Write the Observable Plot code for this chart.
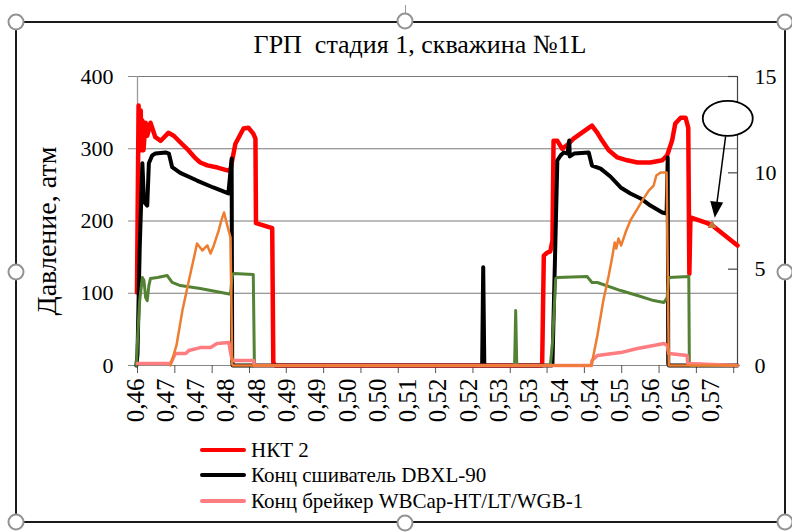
<!DOCTYPE html>
<html><head><meta charset="utf-8">
<script src="https://cdn.jsdelivr.net/npm/d3@7"></script>
<script src="https://cdn.jsdelivr.net/npm/@observablehq/plot@0.6"></script>
<style>
body{margin:0;background:#fff;}
#wrap{position:relative;width:792px;height:532px;overflow:hidden;background:#fff;font-family:"Liberation Serif","Times New Roman",serif;color:#000;}
.frame{position:absolute;left:15px;top:21px;width:771px;height:502px;border:2.5px solid #1a1a1a;box-sizing:border-box;}
.handle{position:absolute;width:17px;height:17px;border-radius:50%;border:2.5px solid #939393;background:#fff;box-sizing:border-box;transform:translate(-50%,-50%);}
.rot{position:absolute;left:405px;top:5px;width:1px;height:9px;background:#999;}
#title{position:absolute;left:0;width:840px;top:32px;text-align:center;font-size:26px;white-space:pre;line-height:1;}
#ytitle{position:absolute;left:47px;top:231px;transform:translate(-50%,-50%) rotate(-90deg);white-space:nowrap;font-size:28px;line-height:1;}
#chart{position:absolute;left:0;top:0;}
.leg{position:absolute;left:200px;height:26px;display:flex;align-items:center;font-size:21px;white-space:nowrap;}
.sw{width:46px;height:4px;border-radius:2px;margin-right:5px;}
</style>
</head><body>
<div id="wrap">
  <div class="frame"></div>
  <div class="rot"></div>
  <div id="title">ГРП  стадия 1, скважина №1L</div>
  <div id="ytitle">Давление, атм</div>
  <div id="chart"></div>
  <div id="legend"></div>
</div>
<script>
// ---- data (time as fraction of day; red in атм, others on right axis 0–15) ----
const red = [[0.4599,101],[0.4602,360],[0.4604,311],[0.4606,353],[0.4607,298],[0.4609,339],[0.4611,298],[0.4615,336],[0.4618,318],[0.4624,336],[0.4633,316],[0.4643,311],[0.4657,322],[0.4667,318],[0.4679,309],[0.4694,298],[0.4707,287],[0.4716,281],[0.4729,277],[0.4748,274],[0.4766,270],[0.4772,271],[0.4775,284],[0.4781,307],[0.4796,328],[0.4805,329],[0.4814,321],[0.4818,314],[0.4819,197],[0.4849,190],[0.4851,4],[0.4855,0],[0.5347,0],[0.5348,4],[0.5351,152],[0.5357,156],[0.5363,158],[0.5367,173],[0.5369,311],[0.5376,311],[0.5385,300],[0.5394,305],[0.5406,314],[0.5419,321],[0.5434,329],[0.5440,332],[0.5450,322],[0.5459,311],[0.5471,298],[0.5487,288],[0.5505,284],[0.5524,281],[0.5548,281],[0.5570,284],[0.5579,291],[0.5588,311],[0.5594,335],[0.5604,343],[0.5613,343],[0.5618,329],[0.5620,127],[0.5622,205],[0.5653,197],[0.5662,194],[0.5709,166]];
const black = [[0.4598,0],[0.4600,0.6],[0.4604,6.0],[0.4609,10.5],[0.4612,8.5],[0.4618,8.3],[0.4621,10.5],[0.4627,10.9],[0.4633,11.0],[0.4652,11.06],[0.4658,11.0],[0.4664,10.3],[0.4679,10.0],[0.4710,9.6],[0.4740,9.24],[0.4768,8.93],[0.4774,10.74],[0.4775,0.26],[0.4776,0],[0.5237,0],[0.5239,5.1],[0.5241,0],[0.5366,0],[0.5367,0.1],[0.5376,10.64],[0.5382,10.9],[0.5388,11.06],[0.5395,11.0],[0.5398,11.68],[0.5399,10.85],[0.5407,11.0],[0.5434,11.06],[0.5440,10.38],[0.5456,10.22],[0.5474,9.81],[0.5493,9.24],[0.5511,8.93],[0.5530,8.67],[0.5548,8.30],[0.5570,7.94],[0.5578,7.89],[0.5580,10.8],[0.5581,0.1],[0.5582,0],[0.5709,0]];
const green = [[0.4598,0],[0.4600,1.3],[0.4604,3.37],[0.4609,4.57],[0.4612,4.41],[0.4615,3.53],[0.4618,3.37],[0.4621,4.15],[0.4624,4.52],[0.4637,4.57],[0.4655,4.67],[0.4664,4.31],[0.4679,4.15],[0.4716,4.0],[0.4772,3.7],[0.4775,4.67],[0.4778,4.78],[0.4814,4.72],[0.4816,0.16],[0.4818,0],[0.5297,0],[0.5299,2.85],[0.5301,0],[0.5363,0],[0.5367,1.14],[0.5373,4.52],[0.5376,4.57],[0.5431,4.62],[0.5440,4.31],[0.5450,4.31],[0.5493,3.89],[0.5524,3.63],[0.5554,3.37],[0.5573,3.27],[0.5579,3.53],[0.5582,4.57],[0.5619,4.62],[0.5620,0.1],[0.5622,0],[0.5709,0]];
const pink = [[0.4600,0.1],[0.4661,0.1],[0.4670,0.62],[0.4689,0.62],[0.4695,0.78],[0.4716,0.93],[0.4735,0.93],[0.4747,1.14],[0.4769,1.19],[0.4772,0.67],[0.4775,0.26],[0.4814,0.26],[0.4816,0],[0.5439,0],[0.5440,0.26],[0.5450,0.52],[0.5493,0.67],[0.5524,0.88],[0.5554,1.04],[0.5573,1.14],[0.5579,1.04],[0.5582,0.62],[0.5616,0.52],[0.5617,0.1],[0.5709,0]];
const orange = [[0.4661,0],[0.4672,1.04],[0.4683,2.85],[0.4695,4.41],[0.4704,5.55],[0.4710,6.33],[0.4720,5.97],[0.4729,6.23],[0.4735,5.81],[0.4741,6.23],[0.4750,7.0],[0.4755,7.53],[0.4760,7.94],[0.4766,7.27],[0.4772,6.64],[0.4775,0.1],[0.4776,0],[0.5439,0],[0.5450,1.56],[0.5461,3.37],[0.5471,4.67],[0.5478,5.71],[0.5482,6.38],[0.5485,6.07],[0.5489,6.59],[0.5494,6.23],[0.5502,6.90],[0.5511,7.53],[0.5522,8.04],[0.5533,8.56],[0.5545,9.08],[0.5554,9.34],[0.5559,9.86],[0.5567,10.02],[0.5578,10.02],[0.5582,0],[0.5709,0]];

const leftTicks = [0,100,200,300,400];
const rightTicks = [0,5,10,15];
const xDomain = [0.46, 0.5709];
const xTickTimes = [0.4600,0.4669,0.4738,0.4807,0.4875,0.4944,0.5013,0.5082,0.5151,0.5220,0.5289,0.5357,0.5426,0.5495,0.5564,0.5633,0.5702];
const xLabelTimes = [0.4600,0.4656,0.4712,0.4768,0.4824,0.4880,0.4936,0.4992,0.5048,0.5104,0.5160,0.5216,0.5272,0.5328,0.5384,0.5440,0.5496,0.5552,0.5608,0.5664];
const xLabels = ["0,46","0,47","0,47","0,48","0,48","0,49","0,49","0,50","0,50","0,51","0,52","0,52","0,53","0,53","0,54","0,54","0,55","0,56","0,56","0,57"];

const legendNames = ["НКТ 2","Конц сшиватель DBXL-90","Конц брейкер WBCap-HT/LT/WGB-1"];
const legendColors = ["#ff0000","#000000","#ff7c80"];

// annotation (time, атм)
const ellipsePos = [0.5691, 342];
const arrowLine = {t1: 0.5687, p1: 317, t2: 0.5670, p2: 219};
const arrowHeadPos = [0.5669, 217];
const markerPos = [0.5662, 194];

// ---- build ----
const k = 400/15;
const rows = (arr, s) => arr.map(([t, v]) => ({t, v: v*s}));

const ellipseSym = {draw(ctx){const rx=25, ry=17.5, c=0.5523;
  ctx.moveTo(rx,0);
  ctx.bezierCurveTo(rx,ry*c,rx*c,ry,0,ry);
  ctx.bezierCurveTo(-rx*c,ry,-rx,ry*c,-rx,0);
  ctx.bezierCurveTo(-rx,-ry*c,-rx*c,-ry,0,-ry);
  ctx.bezierCurveTo(rx*c,-ry,rx,-ry*c,rx,0);
  ctx.closePath();}};
const headSym = {draw(ctx){ctx.moveTo(0,9);ctx.lineTo(-6.5,-7);ctx.lineTo(6.5,-7);ctx.closePath();}};

const lineOpts = {x:"t", y:"v", strokeLinejoin:"round", strokeLinecap:"round"};

const chart = Plot.plot({
  width: 792, height: 440,
  marginTop: 76, marginBottom: 75, marginLeft: 137, marginRight: 55,
  x: {domain: xDomain},
  y: {domain: [0, 400]},
  style: {fontFamily: '"Liberation Serif","Times New Roman",serif', fontSize: "22px", background: "transparent", color: "#000", overflow: "visible"},
  marks: [
    Plot.gridY({ticks: leftTicks.filter(d => d > 0), stroke: "#7a7a7a", strokeOpacity: 1, strokeWidth: 1.2}),
    Plot.ruleY([0], {stroke: "#888"}),
    Plot.ruleX([xDomain[0]], {stroke: "#9a9a9a", strokeWidth: 1.3}),
    Plot.ruleX([xDomain[1]], {stroke: "#444", strokeWidth: 1.2}),
    Plot.axisY({anchor: "left", ticks: leftTicks, tickSize: 9, tickPadding: 15, stroke: "#888", label: null}),
    Plot.ruleY(rightTicks.map(v => v*k), {insetLeft: 591, stroke: "#444", strokeWidth: 1.2}),
    Plot.axisY({anchor: "right", ticks: rightTicks.map(v => v*k), tickSize: 0, tickPadding: 17, tickFormat: d => String(Math.round(d/k)), label: null}),
    Plot.axisX({ticks: xTickTimes, tickSize: 8, tickFormat: () => "", stroke: "#555", label: null}),
    Plot.text(xLabelTimes, {x: d => d, y: () => 0, text: (d, i) => xLabels[i], rotate: -90, textAnchor: "end", lineAnchor: "middle", dy: 13, dx: -2, fontSize: 25}),
    Plot.line(rows(red, 1), {...lineOpts, stroke: "#ff0000", strokeWidth: 4.5}),
    Plot.line(rows(black, k), {...lineOpts, stroke: "#000000", strokeWidth: 4}),
    Plot.line(rows(green, k), {...lineOpts, stroke: "#548235", strokeWidth: 3}),
    Plot.line(rows(pink, k), {...lineOpts, stroke: "#ff7c80", strokeWidth: 3.5}),
    Plot.line(rows(orange, k), {...lineOpts, stroke: "#ed7d31", strokeWidth: 2.5}),
    Plot.link([arrowLine], {x1: "t1", y1: "p1", x2: "t2", y2: "p2", stroke: "#000", strokeWidth: 1.5}),
    Plot.dot([arrowHeadPos], {x: d => d[0], y: d => d[1], symbol: headSym, r: 5, fill: "#000", stroke: "none", rotate: 7}),
    Plot.dot([ellipsePos], {x: d => d[0], y: d => d[1], symbol: ellipseSym, r: 10, fill: "#fff", stroke: "#000", strokeWidth: 1.8}),
    Plot.dot([markerPos], {x: d => d[0], y: d => d[1], symbol: "triangle", r: 3.4, fill: "#c8773a", stroke: "none"})
  ]
});
document.getElementById("chart").appendChild(chart);

// legend
const leg = document.getElementById("legend");
const legY = [450, 475, 501];
legendNames.forEach((name, i) => {
  const row = document.createElement("div");
  row.className = "leg";
  row.style.top = (legY[i] - 13) + "px";
  const sw = document.createElement("div");
  sw.className = "sw";
  sw.style.background = legendColors[i];
  row.appendChild(sw);
  row.appendChild(document.createTextNode(name));
  leg.appendChild(row);
});

// selection handles
const wrap = document.getElementById("wrap");
[[16,22],[405,21],[785,22],[16,272],[785,272],[16,522],[405,523],[785,522]].forEach(([x,y]) => {
  const h = document.createElement("div");
  h.className = "handle";
  h.style.left = x + "px"; h.style.top = y + "px";
  wrap.appendChild(h);
});
</script>
</body></html>
